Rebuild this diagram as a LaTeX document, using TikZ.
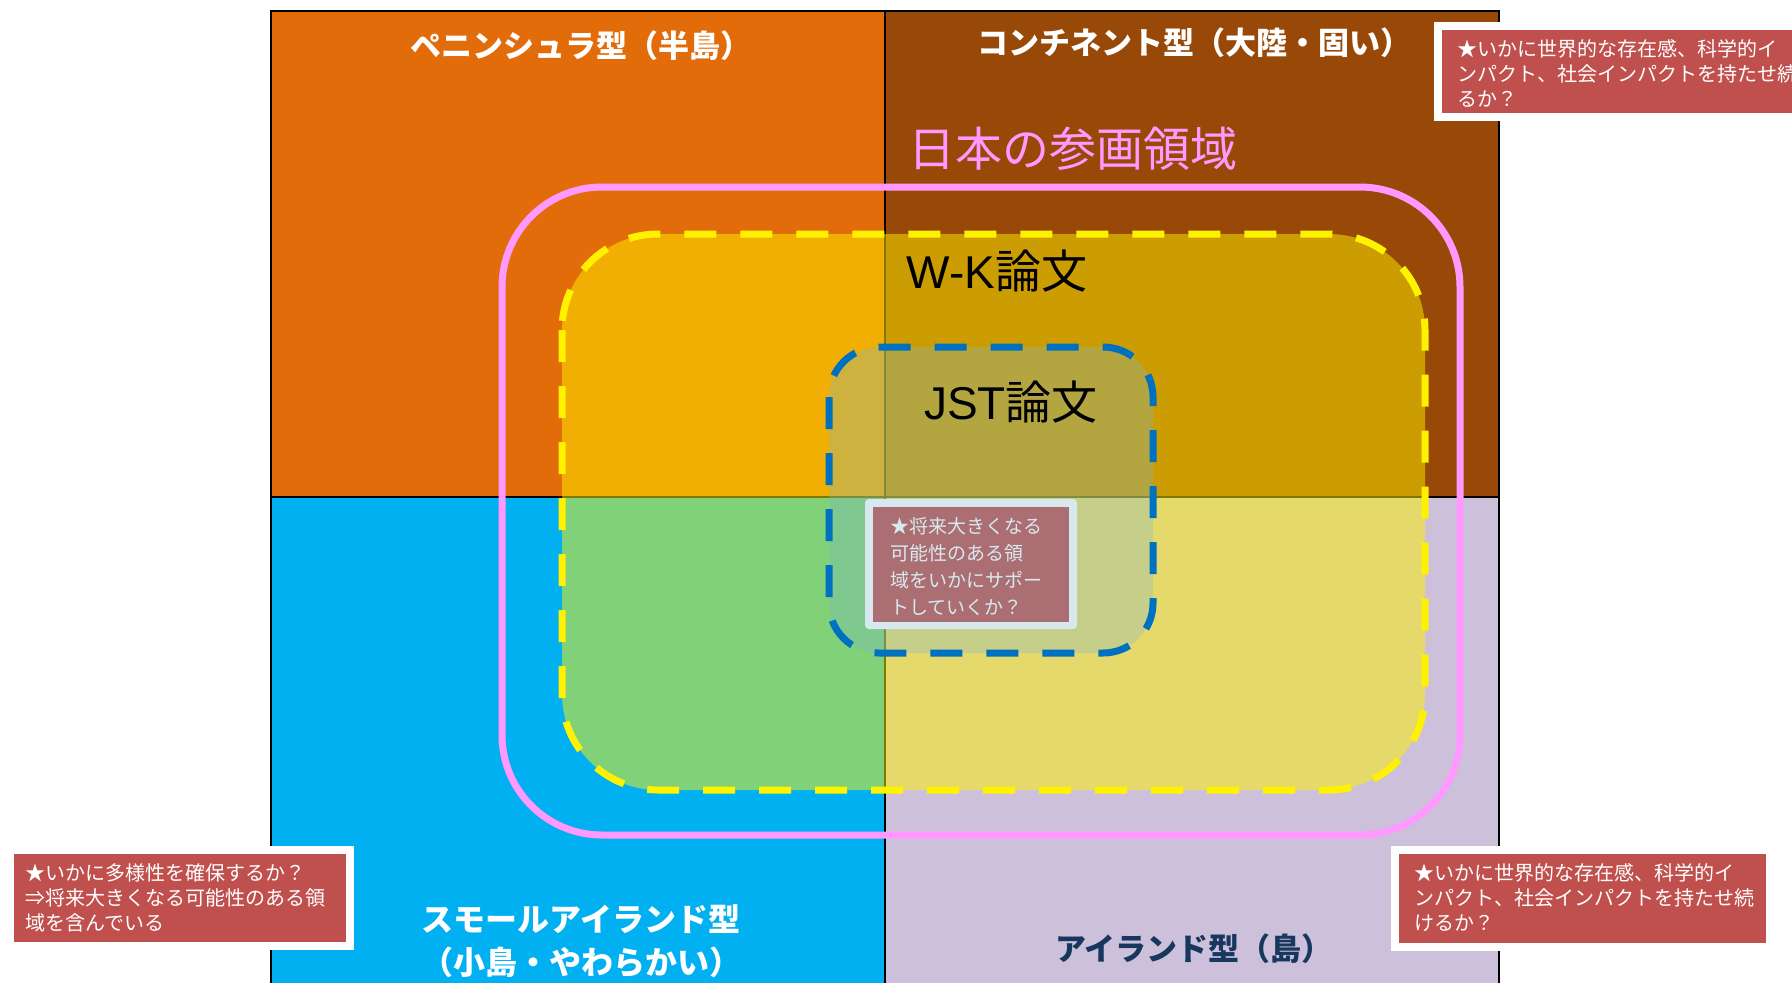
\documentclass[tikz,border=0pt]{standalone}
\usepackage{fontspec}
\newfontfamily\jp{Noto Sans CJK JP}
\newfontfamily\lat{Liberation Sans}
\definecolor{qorange}{HTML}{E36C0A}
\definecolor{qbrown}{HTML}{984807}
\definecolor{qcyan}{HTML}{00B0F0}
\definecolor{qlav}{HTML}{CCC0DA}
\definecolor{pinkc}{HTML}{FF99FF}
\definecolor{boxred}{HTML}{C0504D}
\definecolor{jstblue}{HTML}{0070C0}
\definecolor{navyc}{HTML}{17375E}
\definecolor{jstfill}{RGB}{125,185,205}
\begin{document}
\begin{tikzpicture}[x=0.5pt,y=-0.5pt,
  quadlabel/.style={font=\jp\bfseries\fontsize{15.5}{21.5}\selectfont, text=white, inner sep=0pt, align=center},
  notetext/.style={font=\jp\fontsize{10}{12.5}\selectfont, text=white, align=left, inner sep=0pt, anchor=west},
  bigtext/.style={font=\fontsize{23}{28}\selectfont, inner sep=0pt},
  dashline/.style={line width=3.5pt, dash pattern=on 16pt off 12pt}]
\useasboundingbox (0,0) rectangle (1792,982);
\fill[white] (0,0) rectangle (1792,982);
% quadrants
\fill[qorange] (271,11) rectangle (885,497);
\fill[qbrown] (885,11) rectangle (1499,497);
\fill[qcyan] (271,497) rectangle (885,990);
\fill[qlav] (885,497) rectangle (1499,990);
\draw[line width=1.2pt] (271,990) -- (271,11) -- (1499,11) -- (1499,990);
\draw[line width=1pt] (885,11) -- (885,990);
\draw[line width=1pt] (271,497) -- (1499,497);
% pink region
\draw[pinkc, line width=3.5pt, rounded corners=50pt] (502,187) rectangle (1460,835);
% yellow region
\fill[yellow, fill opacity=0.5, rounded corners=48pt] (562,234) rectangle (1425,790);
\draw[yellow, dashline, rounded corners=48pt] (562,234) rectangle (1425,790);
% center note (under the JST overlay)
\fill[white, rounded corners=2pt] (865,499) rectangle (1077,629);
\fill[boxred] (873,507) rectangle (1069,622);
\node[notetext, font=\jp\fontsize{9.5}{13.5}\selectfont] (ncenter) at (890,567) {★将来大きくなる\\可能性のある領\\域をいかにサポー\\トしていくか？};
% JST region
\fill[jstfill, fill opacity=0.3, rounded corners=25pt] (829,347) rectangle (1153,653);
\draw[jstblue, dashline, rounded corners=25pt] (829,347) rectangle (1153,653);
% labels
\node[quadlabel] (tl) at (581,46) {ペニンシュラ型（半島）};
\node[quadlabel] (tr) at (1194,43) {コンチネント型（大陸・固い）};
\node[quadlabel, font=\jp\bfseries\fontsize{16}{21.5}\selectfont] (bl) at (581,941) {スモールアイランド型\\（小島・やわらかい）};
\node[quadlabel, text=navyc] (br) at (1194,949) {アイランド型（島）};
\node[text=pinkc, font=\jp\fontsize{23.5}{28}\selectfont, inner sep=0pt] (jpn) at (1073,149) {日本の参画領域};
\node[bigtext] (wk) at (997,271) {\lat W-K\jp 論文};
\node[bigtext] (jst) at (1011,402) {\lat JST\jp 論文};
% top-right note
\fill[white] (1434,22) rectangle (1800,121);
\fill[boxred] (1442,30) rectangle (1800,113);
\node[notetext] (ntr) at (1457,73) {★いかに世界的な存在感、科学的イ\\ンパクト、社会インパクトを持たせ続け\\るか？};
% bottom-left note
\fill[white] (6,846) rectangle (354,950);
\fill[boxred] (14,854) rectangle (346,942);
\node[notetext] (nbl) at (25,898) {★いかに多様性を確保するか？\\⇒将来大きくなる可能性のある領\\域を含んでいる};
% bottom-right note
\fill[white] (1391,846) rectangle (1774,951);
\fill[boxred] (1399,854) rectangle (1766,943);
\node[notetext] (nbr) at (1414,898) {★いかに世界的な存在感、科学的イ\\ンパクト、社会インパクトを持たせ続\\けるか？};
\end{tikzpicture}
\end{document}
